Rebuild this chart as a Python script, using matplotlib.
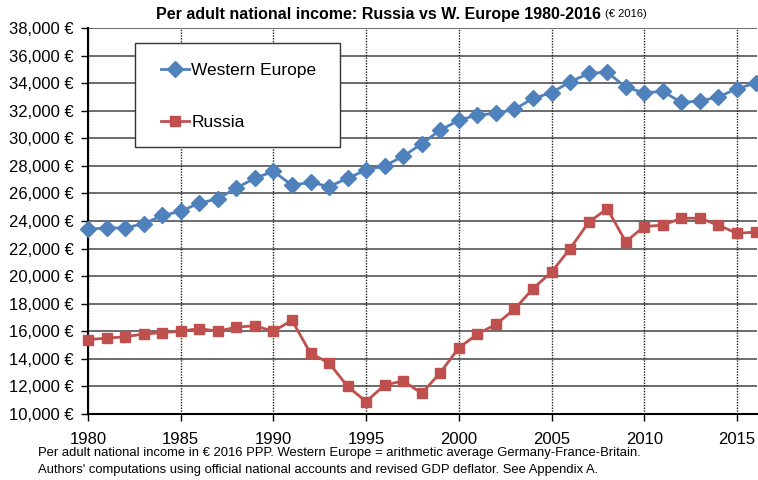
import matplotlib
matplotlib.use("Agg")
import matplotlib.pyplot as plt
from matplotlib import font_manager as fm
from matplotlib.patches import Rectangle
import numpy as np

years = list(range(1980, 2017))
western_europe = [23400, 23500, 23500, 23800, 24400, 24700, 25300, 25600, 26400, 27100,
                  27600, 26600, 26800, 26500, 27100, 27700, 28000, 28700, 29600, 30600,
                  31300, 31700, 31800, 32100, 32900, 33300, 34100, 34700, 34800, 33700,
                  33300, 33400, 32600, 32700, 33000, 33600, 34000]
russia = [15400, 15500, 15600, 15800, 15900, 16000, 16200, 16000, 16300, 16400,
          16000, 16800, 14400, 13700, 12000, 10900, 12100, 12400, 11500, 13000,
          14800, 15800, 16500, 17600, 19100, 20300, 22000, 23900, 24900, 22500,
          23600, 23700, 24200, 24200, 23700, 23100, 23200]
x_ticks = [1980, 1985, 1990, 1995, 2000, 2005, 2010, 2015]
y_ticks = list(range(10000, 38001, 2000))

names = {f.name for f in fm.fontManager.ttflist}
narrow = "Liberation Sans Narrow" if "Liberation Sans Narrow" in names else "Liberation Sans"
plt.rcParams['font.family'] = [narrow, 'DejaVu Sans']

W, H = 758, 480
fig = plt.figure(figsize=(7.58, 4.80), dpi=100)
ax = fig.add_axes([88/W, 1-414/H, (757-88)/W, (414-28)/H])

ax.plot(years, western_europe, color='#4F81BD', lw=2.0, marker='D', ms=8.5,
        label='Western Europe', clip_on=False, zorder=3)
ax.plot(years, russia, color='#C0504D', lw=2.0, marker='s', ms=7,
        label='Russia', clip_on=False, zorder=3)

ax.set_xlim(1980, 2016.08)
ax.set_ylim(10000, 38000)
ax.set_xticks(x_ticks)
ax.set_yticks(y_ticks)
ax.set_yticklabels([f"{v:,} €" for v in y_ticks])
ax.tick_params(axis='both', labelsize=12, direction='out', length=5, width=1)
ax.tick_params(axis='x', pad=8)
ax.tick_params(axis='y', pad=5)

for y in y_ticks:
    ax.axhline(y, color='#444444', lw=1.1, zorder=1)
for x in x_ticks:
    ax.axvline(x, color='#222222', lw=1.0, ls=(0, (1, 1)), zorder=1)

for s in ['top', 'right']:
    ax.spines[s].set_visible(False)
ax.spines['left'].set_linewidth(1.5)
ax.spines['bottom'].set_linewidth(1.5)

# legend box (frame drawn separately to match reference padding)
ax_w, ax_h = 757-88, 414-28
box = Rectangle(((135-88)/ax_w, 1-(147-28)/ax_h), (340-135)/ax_w, (147-43)/ax_h,
                transform=ax.transAxes, facecolor='white', edgecolor='#333333',
                lw=1.0, zorder=4)
ax.add_patch(box)
leg = ax.legend(loc='upper left', bbox_to_anchor=((161-88)/ax_w, 1-(63-28)/ax_h),
                fontsize=12.5, frameon=False, labelspacing=2.1, borderpad=0,
                handlelength=1.6, handletextpad=0.15, borderaxespad=0)
leg.set_zorder(5)

fig.text(0.5, 0.985, "Per adult national income: Russia vs W. Europe 1980-2016", ha='center',
         va='top', fontsize=11.5, fontweight='bold', family=['Liberation Sans', 'DejaVu Sans'])
t = fig.texts[-1]
fig.canvas.draw()
bb = t.get_window_extent()
fig.text(bb.x1/W + 0.004, 0.985 - 0.004, "(€ 2016)", ha='left', va='top', fontsize=8)

fig.text(38/W, 1-453/H, "Per adult national income in € 2016 PPP. Western Europe = arithmetic average Germany-France-Britain.",
         ha='left', va='center', fontsize=9.4)
fig.text(38/W, 1-470/H, "Authors' computations using official national accounts and revised GDP deflator. See Appendix A.",
         ha='left', va='center', fontsize=9.4)

fig.savefig("out.png", dpi=100)
